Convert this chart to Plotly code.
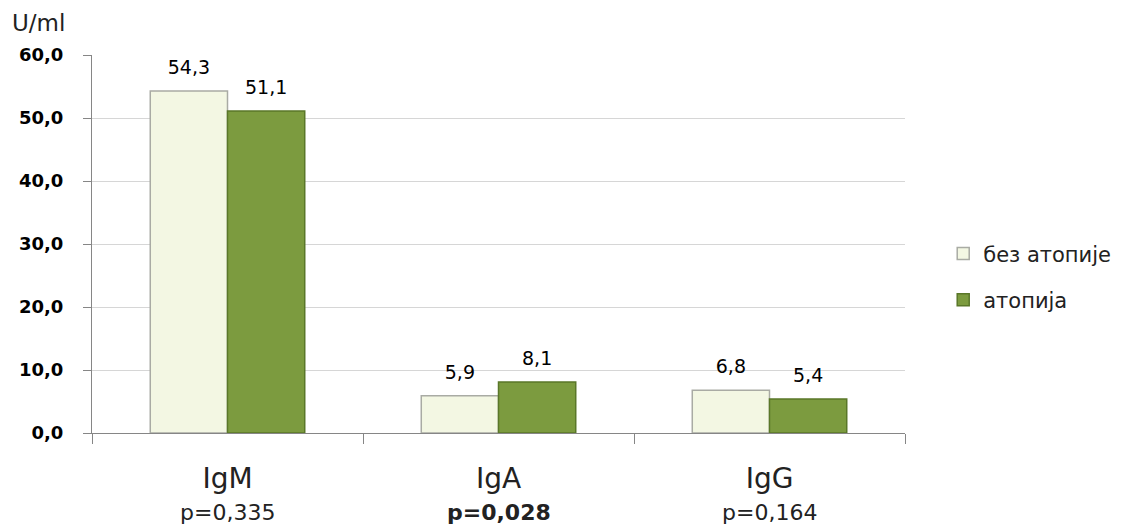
import plotly.graph_objects as go

categories = ["IgM", "IgA", "IgG"]
p_values = ["p=0,335", "p=0,028", "p=0,164"]
p_bold = [False, True, False]
series_names = ["без атопије", "атопија"]
no_atopy = [54.3, 5.9, 6.8]
atopy = [51.1, 8.1, 5.4]

FONT = "DejaVu Sans"
label_tpl = "<span style='font-size:19px'>%{y:.1f}</span><br> "

fig = go.Figure()
fig.add_trace(go.Bar(
    x=categories, y=no_atopy, name=series_names[0], legendgroup="a",
    marker=dict(color="#F3F7E3", line=dict(color="#A9ABA4", width=1.5)),
    texttemplate=label_tpl, textposition="outside", constraintext="none",
    textfont=dict(family=FONT, size=9, color="#000000"),
    cliponaxis=False,
))
fig.add_trace(go.Bar(
    x=categories, y=atopy, name=series_names[1], legendgroup="b",
    marker=dict(color="#7C9B3F", line=dict(color="#5A7729", width=1.5)),
    texttemplate=label_tpl, textposition="outside", constraintext="none",
    textfont=dict(family=FONT, size=9, color="#000000"),
    cliponaxis=False,
))

annotations = [dict(
    text="U/ml", xref="paper", yref="paper", x=-0.1009, y=1.085,
    xanchor="left", yanchor="middle", showarrow=False,
    font=dict(family=FONT, size=23, color="#222222"),
)]
for c, p, b in zip(categories, p_values, p_bold):
    annotations.append(dict(
        text=f"<b>{p}</b>" if b else p, x=c, xref="x", yref="paper", y=-0.209,
        xanchor="center", yanchor="middle", showarrow=False,
        font=dict(family=FONT, size=22, color="#222222"),
    ))

fig.update_layout(
    width=1140, height=516,
    margin=dict(l=84, r=243, t=47, b=91),
    paper_bgcolor="white", plot_bgcolor="white",
    separators=", ",
    barmode="group", bargap=0.43, bargroupgap=0,
    showlegend=True,
    legend=dict(x=1.047, xanchor="left", y=0.413, yanchor="middle",
                font=dict(family=FONT, size=21, color="#222222"),
                tracegroupgap=16, itemwidth=30),
    xaxis=dict(
        type="category", tickmode="array", tickvals=categories, ticktext=categories,
        tickson="boundaries", ticks="outside", ticklen=10, tickcolor="#868686",
        showline=True, linecolor="#868686", linewidth=1,
        tickfont=dict(family=FONT, size=28, color="#222222"),
        ticklabelstandoff=20,
        showgrid=False,
    ),
    yaxis=dict(
        range=[0, 60], dtick=10, tickformat=".1f",
        ticks="outside", ticklen=8, tickcolor="#868686",
        showline=True, linecolor="#868686", linewidth=1,
        gridcolor="#D6D6D6", gridwidth=1,
        tickfont=dict(family=FONT, size=18, color="#000000", weight="bold"),
        ticklabelstandoff=16,
        zeroline=False,
    ),
    annotations=annotations,
)

fig.write_html("out.html")
